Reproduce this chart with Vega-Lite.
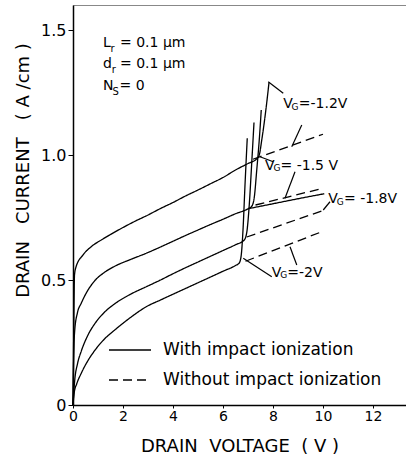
{
  "$schema": "https://vega.github.io/schema/vega-lite/v6.json",
  "width": 333,
  "height": 400,
  "autosize": {"type": "none"},
  "padding": {"left": 73, "top": 5, "right": 0, "bottom": 56},
  "background": "white",
  "config": {
    "view": {"stroke": "#888", "strokeWidth": 1},
    "font": "DejaVu Sans",
    "axis": {"grid": false, "domainColor": "black", "domainWidth": 1.5, "tickColor": "black", "labelColor": "black", "titleColor": "black", "titleFontWeight": "normal", "labelFont": "DejaVu Sans", "titleFont": "DejaVu Sans"}
  },
  "datasets": {
    "curves": [
      {"v": 0, "i": 0, "curve": "-1.2 with", "kind": "With impact ionization"},
      {"v": 0.03, "i": 0.3, "curve": "-1.2 with", "kind": "With impact ionization"},
      {"v": 0.06, "i": 0.52, "curve": "-1.2 with", "kind": "With impact ionization"},
      {"v": 0.12, "i": 0.552, "curve": "-1.2 with", "kind": "With impact ionization"},
      {"v": 0.4, "i": 0.6, "curve": "-1.2 with", "kind": "With impact ionization"},
      {"v": 0.75, "i": 0.635, "curve": "-1.2 with", "kind": "With impact ionization"},
      {"v": 1.13, "i": 0.66, "curve": "-1.2 with", "kind": "With impact ionization"},
      {"v": 1.5, "i": 0.682, "curve": "-1.2 with", "kind": "With impact ionization"},
      {"v": 2, "i": 0.71, "curve": "-1.2 with", "kind": "With impact ionization"},
      {"v": 2.5, "i": 0.736, "curve": "-1.2 with", "kind": "With impact ionization"},
      {"v": 3, "i": 0.76, "curve": "-1.2 with", "kind": "With impact ionization"},
      {"v": 3.5, "i": 0.786, "curve": "-1.2 with", "kind": "With impact ionization"},
      {"v": 4, "i": 0.81, "curve": "-1.2 with", "kind": "With impact ionization"},
      {"v": 4.5, "i": 0.836, "curve": "-1.2 with", "kind": "With impact ionization"},
      {"v": 5, "i": 0.86, "curve": "-1.2 with", "kind": "With impact ionization"},
      {"v": 5.5, "i": 0.885, "curve": "-1.2 with", "kind": "With impact ionization"},
      {"v": 6, "i": 0.91, "curve": "-1.2 with", "kind": "With impact ionization"},
      {"v": 6.5, "i": 0.94, "curve": "-1.2 with", "kind": "With impact ionization"},
      {"v": 7, "i": 0.966, "curve": "-1.2 with", "kind": "With impact ionization"},
      {"v": 7.35, "i": 0.985, "curve": "-1.2 with", "kind": "With impact ionization"},
      {"v": 7.45, "i": 1.0, "curve": "-1.2 with", "kind": "With impact ionization"},
      {"v": 7.55, "i": 1.06, "curve": "-1.2 with", "kind": "With impact ionization"},
      {"v": 7.65, "i": 1.13, "curve": "-1.2 with", "kind": "With impact ionization"},
      {"v": 7.75, "i": 1.21, "curve": "-1.2 with", "kind": "With impact ionization"},
      {"v": 7.84, "i": 1.29, "curve": "-1.2 with", "kind": "With impact ionization"},

      {"v": 0, "i": 0, "curve": "-1.5 with", "kind": "With impact ionization"},
      {"v": 0.03, "i": 0.2, "curve": "-1.5 with", "kind": "With impact ionization"},
      {"v": 0.07, "i": 0.3, "curve": "-1.5 with", "kind": "With impact ionization"},
      {"v": 0.18, "i": 0.37, "curve": "-1.5 with", "kind": "With impact ionization"},
      {"v": 0.33, "i": 0.407, "curve": "-1.5 with", "kind": "With impact ionization"},
      {"v": 0.6, "i": 0.46, "curve": "-1.5 with", "kind": "With impact ionization"},
      {"v": 0.87, "i": 0.497, "curve": "-1.5 with", "kind": "With impact ionization"},
      {"v": 1.25, "i": 0.53, "curve": "-1.5 with", "kind": "With impact ionization"},
      {"v": 1.67, "i": 0.555, "curve": "-1.5 with", "kind": "With impact ionization"},
      {"v": 2.3, "i": 0.582, "curve": "-1.5 with", "kind": "With impact ionization"},
      {"v": 2.93, "i": 0.607, "curve": "-1.5 with", "kind": "With impact ionization"},
      {"v": 3.5, "i": 0.632, "curve": "-1.5 with", "kind": "With impact ionization"},
      {"v": 4, "i": 0.655, "curve": "-1.5 with", "kind": "With impact ionization"},
      {"v": 4.5, "i": 0.678, "curve": "-1.5 with", "kind": "With impact ionization"},
      {"v": 5, "i": 0.7, "curve": "-1.5 with", "kind": "With impact ionization"},
      {"v": 5.5, "i": 0.722, "curve": "-1.5 with", "kind": "With impact ionization"},
      {"v": 6, "i": 0.743, "curve": "-1.5 with", "kind": "With impact ionization"},
      {"v": 6.5, "i": 0.765, "curve": "-1.5 with", "kind": "With impact ionization"},
      {"v": 7, "i": 0.785, "curve": "-1.5 with", "kind": "With impact ionization"},
      {"v": 7.15, "i": 0.795, "curve": "-1.5 with", "kind": "With impact ionization"},
      {"v": 7.25, "i": 0.83, "curve": "-1.5 with", "kind": "With impact ionization"},
      {"v": 7.35, "i": 0.94, "curve": "-1.5 with", "kind": "With impact ionization"},
      {"v": 7.45, "i": 1.06, "curve": "-1.5 with", "kind": "With impact ionization"},
      {"v": 7.53, "i": 1.18, "curve": "-1.5 with", "kind": "With impact ionization"},

      {"v": 7.0, "i": 0.785, "curve": "-1.5 branch", "kind": "With impact ionization"},
      {"v": 8, "i": 0.805, "curve": "-1.5 branch", "kind": "With impact ionization"},
      {"v": 9, "i": 0.825, "curve": "-1.5 branch", "kind": "With impact ionization"},
      {"v": 10.05, "i": 0.845, "curve": "-1.5 branch", "kind": "With impact ionization"},

      {"v": 0, "i": 0, "curve": "-1.8 with", "kind": "With impact ionization"},
      {"v": 0.03, "i": 0.05, "curve": "-1.8 with", "kind": "With impact ionization"},
      {"v": 0.07, "i": 0.1, "curve": "-1.8 with", "kind": "With impact ionization"},
      {"v": 0.18, "i": 0.165, "curve": "-1.8 with", "kind": "With impact ionization"},
      {"v": 0.33, "i": 0.215, "curve": "-1.8 with", "kind": "With impact ionization"},
      {"v": 0.6, "i": 0.28, "curve": "-1.8 with", "kind": "With impact ionization"},
      {"v": 0.87, "i": 0.325, "curve": "-1.8 with", "kind": "With impact ionization"},
      {"v": 1.25, "i": 0.37, "curve": "-1.8 with", "kind": "With impact ionization"},
      {"v": 1.67, "i": 0.405, "curve": "-1.8 with", "kind": "With impact ionization"},
      {"v": 2.3, "i": 0.443, "curve": "-1.8 with", "kind": "With impact ionization"},
      {"v": 2.93, "i": 0.473, "curve": "-1.8 with", "kind": "With impact ionization"},
      {"v": 3.5, "i": 0.5, "curve": "-1.8 with", "kind": "With impact ionization"},
      {"v": 4, "i": 0.525, "curve": "-1.8 with", "kind": "With impact ionization"},
      {"v": 4.5, "i": 0.549, "curve": "-1.8 with", "kind": "With impact ionization"},
      {"v": 5, "i": 0.572, "curve": "-1.8 with", "kind": "With impact ionization"},
      {"v": 5.5, "i": 0.595, "curve": "-1.8 with", "kind": "With impact ionization"},
      {"v": 6, "i": 0.618, "curve": "-1.8 with", "kind": "With impact ionization"},
      {"v": 6.5, "i": 0.641, "curve": "-1.8 with", "kind": "With impact ionization"},
      {"v": 6.85, "i": 0.66, "curve": "-1.8 with", "kind": "With impact ionization"},
      {"v": 6.95, "i": 0.69, "curve": "-1.8 with", "kind": "With impact ionization"},
      {"v": 7.05, "i": 0.8, "curve": "-1.8 with", "kind": "With impact ionization"},
      {"v": 7.15, "i": 0.97, "curve": "-1.8 with", "kind": "With impact ionization"},
      {"v": 7.24, "i": 1.13, "curve": "-1.8 with", "kind": "With impact ionization"},

      {"v": 0, "i": 0, "curve": "-2 with", "kind": "With impact ionization"},
      {"v": 0.05, "i": 0.05, "curve": "-2 with", "kind": "With impact ionization"},
      {"v": 0.15, "i": 0.085, "curve": "-2 with", "kind": "With impact ionization"},
      {"v": 0.33, "i": 0.127, "curve": "-2 with", "kind": "With impact ionization"},
      {"v": 0.6, "i": 0.178, "curve": "-2 with", "kind": "With impact ionization"},
      {"v": 0.87, "i": 0.218, "curve": "-2 with", "kind": "With impact ionization"},
      {"v": 1.25, "i": 0.263, "curve": "-2 with", "kind": "With impact ionization"},
      {"v": 1.67, "i": 0.3, "curve": "-2 with", "kind": "With impact ionization"},
      {"v": 2.3, "i": 0.35, "curve": "-2 with", "kind": "With impact ionization"},
      {"v": 2.93, "i": 0.393, "curve": "-2 with", "kind": "With impact ionization"},
      {"v": 3.5, "i": 0.42, "curve": "-2 with", "kind": "With impact ionization"},
      {"v": 4, "i": 0.443, "curve": "-2 with", "kind": "With impact ionization"},
      {"v": 4.5, "i": 0.466, "curve": "-2 with", "kind": "With impact ionization"},
      {"v": 5, "i": 0.489, "curve": "-2 with", "kind": "With impact ionization"},
      {"v": 5.5, "i": 0.512, "curve": "-2 with", "kind": "With impact ionization"},
      {"v": 6, "i": 0.535, "curve": "-2 with", "kind": "With impact ionization"},
      {"v": 6.5, "i": 0.558, "curve": "-2 with", "kind": "With impact ionization"},
      {"v": 6.65, "i": 0.568, "curve": "-2 with", "kind": "With impact ionization"},
      {"v": 6.73, "i": 0.6, "curve": "-2 with", "kind": "With impact ionization"},
      {"v": 6.8, "i": 0.7, "curve": "-2 with", "kind": "With impact ionization"},
      {"v": 6.88, "i": 0.88, "curve": "-2 with", "kind": "With impact ionization"},
      {"v": 6.97, "i": 1.067, "curve": "-2 with", "kind": "With impact ionization"},

      {"v": 7.2, "i": 0.983, "curve": "-1.2 without", "kind": "Without impact ionization"},
      {"v": 10.0, "i": 1.083, "curve": "-1.2 without", "kind": "Without impact ionization"},
      {"v": 7.3, "i": 0.8, "curve": "-1.5 without", "kind": "Without impact ionization"},
      {"v": 10.0, "i": 0.867, "curve": "-1.5 without", "kind": "Without impact ionization"},
      {"v": 6.95, "i": 0.672, "curve": "-1.8 without", "kind": "Without impact ionization"},
      {"v": 10.0, "i": 0.778, "curve": "-1.8 without", "kind": "Without impact ionization"},
      {"v": 6.9, "i": 0.575, "curve": "-2 without", "kind": "Without impact ionization"},
      {"v": 10.0, "i": 0.695, "curve": "-2 without", "kind": "Without impact ionization"}
    ],
    "pointers": [
      {"v": 7.81, "i": 1.293, "v2": 8.41, "i2": 1.247},
      {"v": 9.15, "i": 1.12, "v2": 8.75, "i2": 1.033},
      {"v": 7.48, "i": 0.993, "v2": 8.01, "i2": 0.973},
      {"v": 8.88, "i": 0.933, "v2": 8.48, "i2": 0.827},
      {"v": 10.01, "i": 0.78, "v2": 10.28, "i2": 0.813},
      {"v": 6.81, "i": 0.587, "v2": 7.95, "i2": 0.513},
      {"v": 8.68, "i": 0.633, "v2": 8.95, "i2": 0.56}
    ],
    "vgMain": [
      {"v": 8.41, "i": 1.187, "t": "V"},
      {"v": 9.03, "i": 1.187, "t": "=-1.2V"},
      {"v": 7.68, "i": 0.94, "t": "V"},
      {"v": 8.3, "i": 0.94, "t": "= -1.5 V"},
      {"v": 10.21, "i": 0.807, "t": "V"},
      {"v": 10.84, "i": 0.807, "t": "= -1.8V"},
      {"v": 7.95, "i": 0.513, "t": "V"},
      {"v": 8.57, "i": 0.513, "t": "=-2V"}
    ],
    "vgSub": [
      {"v": 8.74, "i": 1.182, "t": "G"},
      {"v": 8.02, "i": 0.935, "t": "G"},
      {"v": 10.55, "i": 0.802, "t": "G"},
      {"v": 8.29, "i": 0.508, "t": "G"}
    ],
    "params": [
      {"v": 1.2, "i": 1.433, "t": "L"},
      {"v": 1.88, "i": 1.433, "t": "= 0.1 µm"},
      {"v": 1.2, "i": 1.347, "t": "d"},
      {"v": 1.88, "i": 1.347, "t": "= 0.1 µm"},
      {"v": 1.2, "i": 1.26, "t": "N"},
      {"v": 1.86, "i": 1.26, "t": "= 0"}
    ],
    "paramSub": [
      {"v": 1.5, "i": 1.413, "t": "r"},
      {"v": 1.55, "i": 1.327, "t": "r"},
      {"v": 1.58, "i": 1.24, "t": "S"}
    ]
  },
  "encoding": {
    "x": {
      "field": "v", "type": "quantitative",
      "scale": {"domain": [0, 13.32], "nice": false, "zero": false},
      "axis": {"values": [0, 2, 4, 6, 8, 10, 12], "title": "DRAIN\u00a0 VOLTAGE\u00a0 ( V )", "titleFontSize": 18, "titlePadding": 14, "labelFontSize": 14, "labelPadding": 1, "tickSize": 3, "labelFlush": false}
    },
    "y": {
      "field": "i", "type": "quantitative",
      "scale": {"domain": [0, 1.6], "nice": false},
      "axis": {"values": [0, 0.5, 1, 1.5], "labelExpr": "datum.value == 0 ? '0' : format(datum.value, '.1f')", "title": "DRAIN\u00a0\u00a0 CURRENT\u00a0\u00a0 ( A /cm )", "titleFontSize": 18, "titlePadding": 8, "titleY": 165, "labelFontSize": 16, "labelPadding": 2, "tickSize": 5, "labelFlush": false}
    }
  },
  "layer": [
    {
      "data": {"name": "curves"},
      "mark": {"type": "line", "color": "black", "strokeWidth": 1.3, "interpolate": "monotone"},
      "encoding": {
        "detail": {"field": "curve"},
        "strokeDash": {
          "field": "kind", "type": "nominal",
          "scale": {"domain": ["With impact ionization", "Without impact ionization"], "range": [[1, 0], [9, 5]]},
          "legend": {"orient": "none", "legendX": 35, "legendY": 323, "title": null, "padding": 0, "symbolType": "stroke", "symbolSize": 1764, "symbolStrokeWidth": 1.3, "symbolStrokeColor": "black", "labelFontSize": 17, "labelFont": "DejaVu Sans", "labelColor": "black", "labelOffset": 11, "rowPadding": -14, "labelLimit": 400}
        }
      }
    },
    {
      "data": {"name": "pointers"},
      "mark": {"type": "rule", "color": "black", "strokeWidth": 1.2},
      "encoding": {"x2": {"field": "v2"}, "y2": {"field": "i2"}}
    },
    {
      "data": {"name": "vgMain"},
      "mark": {"type": "text", "align": "left", "baseline": "alphabetic", "fontSize": 14, "color": "black"},
      "encoding": {"text": {"field": "t"}}
    },
    {
      "data": {"name": "vgSub"},
      "mark": {"type": "text", "align": "left", "baseline": "alphabetic", "fontSize": 9, "color": "black"},
      "encoding": {"text": {"field": "t"}}
    },
    {
      "data": {"name": "params"},
      "mark": {"type": "text", "align": "left", "baseline": "alphabetic", "fontSize": 14, "color": "black"},
      "encoding": {"text": {"field": "t"}}
    },
    {
      "data": {"name": "paramSub"},
      "mark": {"type": "text", "align": "left", "baseline": "alphabetic", "fontSize": 10, "color": "black"},
      "encoding": {"text": {"field": "t"}}
    }
  ]
}
